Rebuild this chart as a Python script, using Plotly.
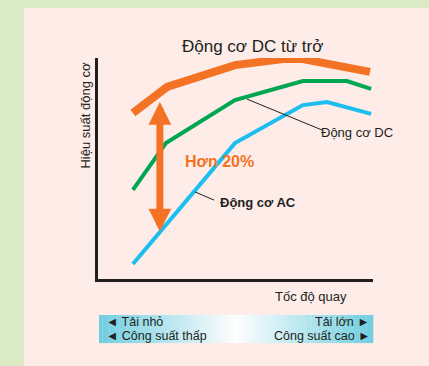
import plotly.graph_objects as go

# toc do quay (0-100) vs hieu suat (0-100), doc tu hinh
x_dc_tu_tro = [12.7, 25.1, 49.8, 67.3, 74.5, 98.9]
y_dc_tu_tro = [75.1, 86.9, 96.8, 99.5, 99.5, 93.7]

x_dc = [12.7, 24.7, 49.8, 74.5, 90.5, 99.3]
y_dc = [40.3, 61.5, 81.0, 89.6, 89.6, 86.0]

x_ac = [12.7, 49.8, 74.5, 83.3, 99.3]
y_ac = [6.8, 61.5, 78.7, 80.1, 74.7]

# mui ten "Hon 20%"
arrow_x = 22.5
arrow_top = 80.1
arrow_bottom = 20.8

FONT = "Arial, Liberation Sans, sans-serif"
DARK = "#231f20"

fig = go.Figure()
fig.add_trace(go.Scatter(x=x_dc_tu_tro, y=y_dc_tu_tro, mode="lines",
                         line=dict(color="#f47224", width=8), name="Động cơ DC từ trở"))
fig.add_trace(go.Scatter(x=x_dc, y=y_dc, mode="lines",
                         line=dict(color="#00a651", width=4), name="Động cơ DC"))
fig.add_trace(go.Scatter(x=x_ac, y=y_ac, mode="lines",
                         line=dict(color="#1cbef0", width=4), name="Động cơ AC"))

shapes = []
# nen hong
shapes.append(dict(type="rect", xref="paper", yref="paper", x0=-0.269, x1=1.3, y0=-0.5, y1=1.226,
                   fillcolor="#fdece8", line=dict(width=0), layer="below"))
# thanh gradient phia duoi
n = 80
x0, x1 = 0.0036, 1.0
c_end = (110, 206, 224)
for i in range(n):
    t = (i + 0.5) / n
    k = abs(t - 0.5) * 2
    col = tuple(int(255 + (c - 255) * k) for c in c_end)
    shapes.append(dict(type="rect", xref="paper", yref="paper",
                       x0=x0 + (x1 - x0) * i / n, x1=x0 + (x1 - x0) * (i + 1) / n + 0.001,
                       y0=-0.290, y1=-0.163,
                       fillcolor="rgb(%d,%d,%d)" % col, line=dict(width=0), layer="below"))
# duong chi dan
shapes.append(dict(type="line", x0=35.3, y0=39.4, x1=42.2, y1=35.7, line=dict(color=DARK, width=1)))
shapes.append(dict(type="line", x0=54.2, y0=81.4, x1=81.5, y1=67.4, line=dict(color=DARK, width=1)))


def txt(x, y, text, size=13, xanchor="center", ref="paper", **kw):
    yref = "y" if ref == "x" else ref
    return dict(x=x, y=y, xref=ref, yref=yref, text=text, showarrow=False,
                xanchor=xanchor, yanchor="middle",
                font=dict(family=kw.pop("family", FONT), size=size, color=kw.pop("color", DARK)), **kw)


annotations = [
    dict(x=arrow_x, y=arrow_top, ax=arrow_x, ay=arrow_bottom, xref="x", yref="y", axref="x", ayref="y",
         text="", showarrow=True, arrowhead=2, arrowside="end+start", arrowsize=0.65,
         arrowwidth=7, arrowcolor="#f47224"),
    txt(44, 53, "<b>Hơn 20%</b>", size=16, ref="x", color="#f47224",
        family="Liberation Sans Narrow, Arial Narrow, sans-serif"),
    txt(43.5, 34.5, "<b>Động cơ AC</b>", xanchor="left", ref="x"),
    txt(80.5, 66.5, "Động cơ DC", xanchor="left", ref="x"),
    txt(0.56, 1.05, "Động cơ DC từ trở", size=17),
    txt(-0.047, 0.74, "Hiệu suất động cơ", textangle=-90),
    txt(0.775, -0.08, "Tốc độ quay"),
    txt(0.02, -0.195, "◄ Tải nhỏ", size=12.5, xanchor="left"),
    txt(0.02, -0.259, "◄ Công suất thấp", size=12.5, xanchor="left"),
    txt(0.995, -0.195, "Tải lớn ►", size=12.5, xanchor="right"),
    txt(0.995, -0.259, "Công suất cao ►", size=12.5, xanchor="right"),
]

fig.update_layout(
    width=429, height=366,
    margin=dict(l=98, r=56, t=58, b=87),
    paper_bgcolor="#dbebc5", plot_bgcolor="rgba(0,0,0,0)",
    showlegend=False,
    shapes=shapes, annotations=annotations,
    xaxis=dict(range=[0, 100], showgrid=False, zeroline=False, showticklabels=False, ticks="",
               showline=True, linecolor=DARK, linewidth=2.5, fixedrange=True),
    yaxis=dict(range=[0, 100], showgrid=False, zeroline=False, showticklabels=False, ticks="",
               showline=True, linecolor=DARK, linewidth=2.5, fixedrange=True),
)

# trang html mac dinh co margin 8px o body
fig.write_html("out.html", config=dict(displayModeBar=False),
               post_script="document.body.style.margin='0';")
